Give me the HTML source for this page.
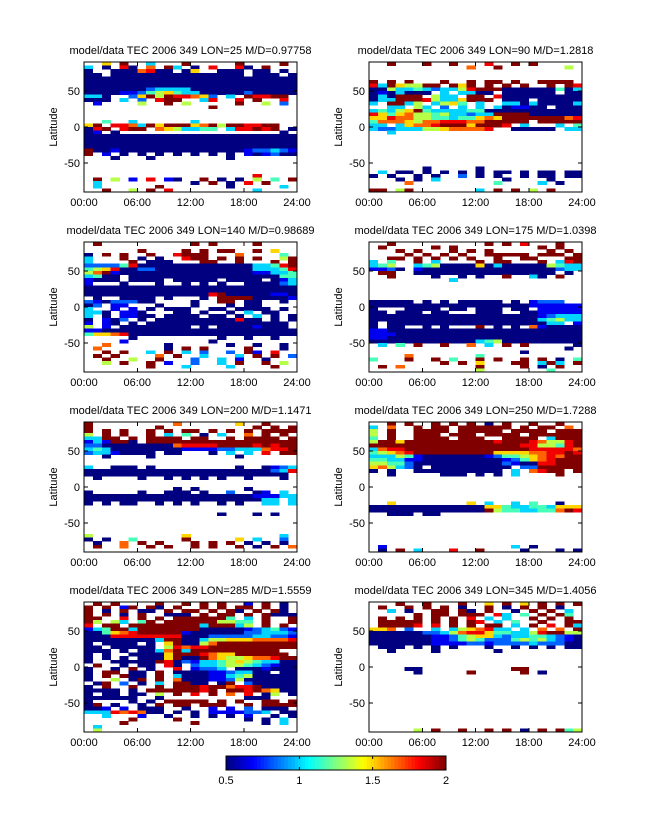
<!DOCTYPE html>
<html><head><meta charset="utf-8">
<style>
html,body{margin:0;padding:0;background:#fff;}
svg{display:block;font-family:"Liberation Sans",sans-serif;}
</style></head>
<body>
<svg id="fig" width="647" height="822" viewBox="0 0 647 822"></svg>
<script>
// ---- data ----
const lonValues = [25, 90, 140, 175, 200, 250, 285, 345];
const mdRatios = ["0.97758", "1.2818", "0.98689", "1.0398", "1.1471", "1.7288", "1.5559", "1.4056"];
const xTickLabels = ["00:00", "06:00", "12:00", "18:00", "24:00"];
const xTickHours = [0, 6, 12, 18, 24];
const yTickValues = [-50, 0, 50];
const cbarTicks = [0.5, 1, 1.5, 2];
// grid codes: '.' = no data, '0'..'9' => value 0.5 + code*1.5/9 ; rows 90->-90 in 5 deg, cols hourly
const grid1 = [
"..6.9..3...9.....9....9.","3.0.80.7.93.0.8..80.9...","0..0007800.06..000.00.0.","00.000000000000000.000.0",
"000000000000000000000000","000000000000000000000000","000000000000000000000000","000000023333000000000000",
"000011245643300000200000","330..2695988762.3.98899.","000.3.2.899..38..8.9..8.",".1....5..9.5.....9..5.2.",
"..............9.........","........................","........................","........................",
"..4..3......3...........2","69.8873969996795998899..","089.899.7653344.388989.0","01.0..................0.",
"000000000000000000000000","000000000000000000000000","000000000000000000000000","000000000000000000000000",
"900100000000000000122321","9.1.0.0.0.0.0.0.0.101200","...0...0........0.......","........................",
"........................","........................","........................","...................8....",
".9.5.1.8.10..9.0.0.5.4.9",".3..........0.9.0.8.9...",".3......9.......0.....3.","..9..5.9.8.........3...."];
const grid2 = [
"..9...9..9...8..9.9.....","...........7..9.......5.","........................","........................",
"........................","9.9.9...9..9.99.9..9999.","83965599.969.9.9.9..9.98","005334323358999000000403",
"0103000.3.3300.000000.00","030999.533.99.8000000000","03399985336999.000.00000","3.9935.3564.3..330300003",
"..33.53.2.3.3.301100.000","343569433334400000000000","864675545332339999000000","668775544344676999999978",
"477765778887799999.99999","33.3677899969998.3...3.4","32233355677778..00000.33","..3.....................",
"........................","........................","........................","........................",
"........................","........................","........................","........................",
"........................","......0.....0...........",".3.00.0.0.0.0.00.0.00.00","0.0..0.0..2.0.0..0.00.00",
"...0.0.3.......0....0...","....7.........4....3.0..","........................","99.59.......3.9.9.5.9..."];
const grid3 = [
".9..........9.9....9....","........................","......9....9.9.99..9.6..","0.9.9..9..8999...7....4.",
"3...9.0.0..899.9.9.9..59","3....9.000...99..9...9.9","222248000000000000033489","456800220000000000033348",
"579100000000000000011334","3400.0000000000000000044","1000.0000.00000.0000.013","1...0...0..0.0.0..000023",
"000000000000000000000000","000000000000000000000000","000000000000008900000110",".0..0000.0...0.999900001",
"21022200....0..99.00..0.","02.11...0...0...0.00....","3..1.1.0.000..00.0000.0.","330.110...00.0..0.3.00..",
"3.0.1100.0000.00.0.3.0.0","0.102.0.000000000800.0.0","1.10.0.0000000000000000.","5.1.00000000.0.00001000.",
"110000000000000000000000","466780000000000000000000",".....0.........0..0..0..","....1.........0.........",
"..7......0......0..0..0.",".7.......0.9.9....9...0.","..9.9..3.9.3.2..2.91.8..",".9.9....7.9..3...3.9.9.2",
"..9..5..9...2..3.1..0...","..5.9..9.1..2..3.9..9.5.",".......9...3....3....9..","........................"];
const grid4 = [
"..9..........9.9.8...9..",".9.....9.9.........9.9..","...9.9...9.9.9......9.9.","....9.9.9.9..99999.999.9",
"..99.9.9.9.9..9..99...99","3.4..9.3....9.99...9.389","345..3450000603000005433","1120.1000000000000000233",
".99..0000000000000000.0.","..9....0..0.0..9..30.9..",".........3..............","........................",
"........................","........................","........................","........................",
"00000.0.0.00000.0.1222..","000000000000000000111111","0...0000.00.000.00.11111","00.000.00...000..0011111",
"000000000000000000012333","000000000000000000034533","0.00000000000000000033.1","0.00..0.0...9.0.0.710000",
"110000000000000000000000","111000000000000000000000","110000000000000000000000","000000000000345000000000",
".3.4.9..9..7.3.9.9.....0","......................0.",".................0......","....7.......4...........",
"4...9..9.4..9.9..9.9.0.4","........9.9.6...99.393.9",".9.7........9....9.0.9..","............5.......4..."];
const grid5 = [
"9.........7......6..9...","9.......9..........9.9.9","9.9.9..9.9.99.9.9.9.9999","5.9.9..9.3.4.0.3..7.9.9.",
"3399.9.9999.99..9.9999.9","131990.99999999999999999","220000000078888999989899","343000000001111223337889",
"23310000.00...0.3.3.8.99","..0....0.........0......","........................","........................",
"3..000.0.........0..0123","000000000000000000000238","00000000000000000000000.",".0....0..0.0.0.0..0...0.",
"........................","........................","..........0.0.....0.....","0.....0..000.0..2..01.3.",
"000000000000000000011133","0000000000000000000033.3","0.0.00..0.0.0..0.0..33.3","........................",
"........................","...............0...0.0..","........................","........................",
"........................","........................","........................","5..........6..........3.",
"0.0..4.....9.....6.3..2.",".0..7.9.9...9.9.9.0.0.0.",".9..7..9.9..9.9..9.0.9.7","........................"];
const grid6 = [
"..9.9..9.9.9.0.9..9..9..","3.7..9.99.999999.9.99.7.","5.9..9999.99999.9999.999","5.9..999.999.9999.999999",
"4.9..9999.999..9999.3999","599699999999998999875589","999999999999999998855489","378899999999999999888887",
"456789999999996666778898","333541000000012445678799","443311000000000124678999","554420000000000210088999",
"675320.000000000.2299999","0.0..0000000000.3.7899.9","..0.....000.0.0.3....9..","........................",
"........................","........................","........................","........................",
"........................","........................","..6........6.3..3.4..0..","000000000000066433443666",
"000000000000095443344798","..000.00................","........................","........................",
"........................","........................","........................","........................",
"........................","........................",".1..............3.0.....",".0.9.3...8..9....0...0.0"];
const grid7 = [
".9.9....9..9.9.9..1.9.0.","9.9.19.90.9..9.9.99.9.0.","9.0.9.00.9.99.9.90.9.90.","9.9.0.9..000.9.99.9.9000",
"99..8.9.9.9999994.3.9..9","95.53.49.9999995544.9..9","8.99.99999999399935.9.9.","134993999999900000123421",
"004678999991000000223332","000888888880002222233221","000000003990035566677778","0.0000.0.690057999999999",
"00.00000.587889999999999","000.0.0037939999999999..","0.0..000069998766999999.","0.0.0.000690097655677899",
"0..000009802133456543300",".9..0.00.80.233455432100","0..0.9.0..8.1223.0001000","0.99.00.9.00001123300.00",
"0.9.900.9.30001134500000","0..5.09.9.70001125000000",".09.2.0.3.9900.09.200000","0.9..9..9.99989978890000",
"0000.0.99999989.99897600","0.00.00.5.9.8.9.7.8.05.0","000000..0.........000...","0....0.0.99999.9.9..99.9",
"09.0..0.9.99.999..9.9999","001.1.000..0..1.1.2.000.","333878700.0.0.1111223.00","..3...1..0..0.0.0.1..0.0",
".....9....9.......0.0.3.","....9.......9.......0.3.",".3......................",".5......................"];
const grid8 = [
"...9..9...9..6.9.6.9.9.9",".9..9.9.9.0..9.0.9.9.0..","..3.0..99.90.9..0.9.9.3.",".....9.99.999.83.4.9.94.",
".9.9.9.9.9.8.3.3..9.9.9.",".99999.9.9.98.3.4..9..99",".99998.8.9.9.99.3.9.8.93","667.2..3.3567833.3.7.7.9",
"000000223578864433589955","000000011245663233443210","000000011245422245453210","000000011112212222322200",
".000.0.0.0...0..0.0.0.00","..0....0......0.........","........................","........................",
"........................","........................","....00..........99......",".....0.....9.....9.0....",
"........................","........................","........................","........................",
"........................","........................","........................","........................",
"........................","........................","........................","........................",
"........................","........................","........................",".....5.9..9..9.9.0.9.945"];
const grids = [grid1, grid2, grid3, grid4, grid5, grid6, grid7, grid8];

// ---- drawing ----
const NS = "http://www.w3.org/2000/svg";
const svg = document.getElementById("fig");
function mk(tag, attrs, parent) {
  const e = document.createElementNS(NS, tag);
  for (const k in attrs) e.setAttribute(k, attrs[k]);
  (parent || svg).appendChild(e);
  return e;
}
function jet(v) {
  let t = (v - 0.5) / 1.5; t = Math.max(0, Math.min(1, t));
  const c = x => Math.round(255 * Math.max(0, Math.min(1, x)));
  return "rgb(" + c(1.5 - Math.abs(4 * t - 3)) + "," + c(1.5 - Math.abs(4 * t - 2)) + "," + c(1.5 - Math.abs(4 * t - 1)) + ")";
}
function codeToValue(ch) { return 0.5 + parseInt(ch, 10) * 1.5 / 9; }

const colLefts = [84, 369];
const rowTops = [62, 242, 422, 602];
const PW = 213, PH = 130;

grids.forEach((grid, p) => {
  const L = colLefts[p % 2], T = rowTops[Math.floor(p / 2)];
  const g = mk("g", {});
  
  
  const xs = h => L + h * PW / 24;
  const ys = lat => T + (90 - lat) * PH / 180;
  const cells = mk("g", {"shape-rendering": "crispEdges"}, g);
  
  
  grid.forEach((row, r) => {
    const latTop = 90 - r * 5, latBot = latTop - 5;
    for (let c = 0; c < 24; c++) {
      const ch = row[c];
      if (!ch || ch === ".") continue;
      const x0 = xs(c), x1 = xs(c + 1), y0 = ys(latTop), y1 = ys(latBot);
      const rc = mk("rect", {x: x0.toFixed(2), y: y0.toFixed(2), width: (x1 - x0 + 0.3).toFixed(2), height: (y1 - y0 + 0.3).toFixed(2), fill: jet(codeToValue(ch))}, cells);
      
      
    }
  });
  const box = mk("rect", {x: L, y: T, width: PW, height: PH, fill: "none", stroke: "#000", "stroke-width": 1, "shape-rendering": "crispEdges"}, g);
  
  
  xTickHours.forEach((h, i) => {
    const x = xs(h);
    mk("line", {x1: x, y1: T + PH, x2: x, y2: T + PH - 4, stroke: "#000", "shape-rendering": "crispEdges"}, g);
    mk("line", {x1: x, y1: T, x2: x, y2: T + 4, stroke: "#000", "shape-rendering": "crispEdges"}, g);
    const tl = mk("text", {x: x, y: T + PH + 14, "font-size": 11, "text-anchor": "middle"}, g);
    tl.textContent = xTickLabels[i];
    
    
  });
  yTickValues.forEach(v => {
    const y = ys(v);
    mk("line", {x1: L, y1: y, x2: L + 4, y2: y, stroke: "#000", "shape-rendering": "crispEdges"}, g);
    mk("line", {x1: L + PW, y1: y, x2: L + PW - 4, y2: y, stroke: "#000", "shape-rendering": "crispEdges"}, g);
    const tl = mk("text", {x: L - 4, y: y + 4, "font-size": 11, "text-anchor": "end"}, g);
    tl.textContent = String(v);
    
    
  });
  const yl = mk("text", {x: 0, y: 0, "font-size": 11, "text-anchor": "middle", transform: "translate(" + (L - 27) + "," + (T + PH / 2) + ") rotate(-90)"}, g);
  yl.textContent = "Latitude";
  
  
  const tt = mk("text", {x: L + PW / 2, y: T - 8, "font-size": 11, "text-anchor": "middle"}, g);
  tt.textContent = "model/data TEC 2006 349 LON=" + lonValues[p] + " M/D=" + mdRatios[p];
  
  
});

// colorbar
const CB = {x: 226, y: 756, w: 220, h: 14};
const cb = mk("g", {});


const nSteps = 64;
for (let i = 0; i < nSteps; i++) {
  const v = 0.5 + (i + 0.5) * 1.5 / nSteps;
  mk("rect", {x: (CB.x + i * CB.w / nSteps).toFixed(2), y: CB.y, width: (CB.w / nSteps + 0.4).toFixed(2), height: CB.h, fill: jet(v), "shape-rendering": "crispEdges"}, cb);
}
mk("rect", {x: CB.x, y: CB.y, width: CB.w, height: CB.h, fill: "none", stroke: "#000", "shape-rendering": "crispEdges"}, cb);
cbarTicks.forEach(v => {
  const x = CB.x + (v - 0.5) / 1.5 * CB.w;
  mk("line", {x1: x, y1: CB.y, x2: x, y2: CB.y + 3, stroke: "#000"}, cb);
  mk("line", {x1: x, y1: CB.y + CB.h, x2: x, y2: CB.y + CB.h - 3, stroke: "#000"}, cb);
  const t = mk("text", {x: x, y: CB.y + CB.h + 14, "font-size": 11, "text-anchor": "middle"}, cb);
  t.textContent = String(v);
  
  
});
</script>
</body></html>
